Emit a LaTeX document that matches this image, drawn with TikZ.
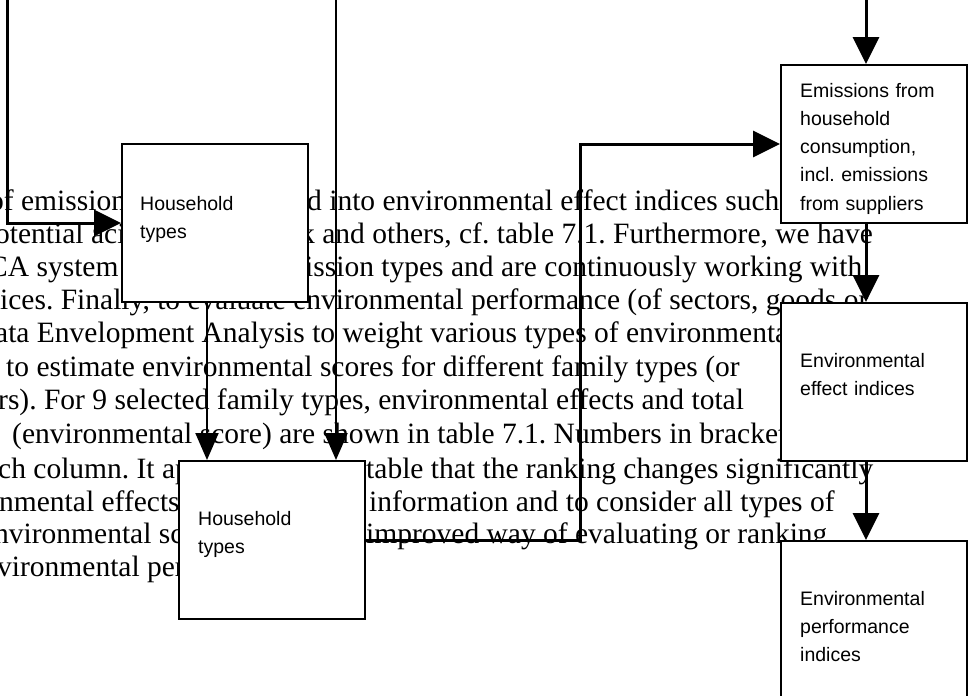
\documentclass[tikz,border=0pt]{standalone}
\usepackage{fontspec}
\setmainfont{Liberation Serif}
\newfontfamily\boxfont{Liberation Sans}
\usetikzlibrary{arrows.meta}
\frenchspacing
\begin{document}
\begin{tikzpicture}[x=1pt,y=-1pt,
  body/.style={anchor=base west, inner sep=0pt, font=\fontsize{29.5}{33}\selectfont},
  stage/.style={draw=black, line width=2pt, fill=white, anchor=north west,
    minimum width=186pt, minimum height=158pt, inner sep=0pt},
  tag/.style={anchor=base west, inner sep=0pt, text width=170pt, align=left,
    font=\boxfont\fontsize{19.5}{28.3}\selectfont},
  flow/.style={line width=3pt, -{Triangle[length=27pt,width=26pt]}},
  feed/.style={line width=2pt, -{Triangle[length=27pt,width=23pt]}}
]
\useasboundingbox (0,0) rectangle (970,696);
\clip (0,0) rectangle (970,696);

% running text of the page behind the chart
\node[body] (l1a) at (-11,210) {of emission};
\node[body] (l1b) at (307,210) {d into environmental effect indices such};
\node[body] (l2a) at (-5,243) {otential aci};
\node[body] (l2b) at (300,243) {k and others, cf. table 7.1. Furthermore, we have};
\node[body] (l3a) at (-12,276) {CA system};
\node[body] (l3b) at (305,276) {ission types and are continuously working with};
\node[body] (l4) at (0,309) {ices. Finally, to evaluate environmental performance (of sectors, goods or};
\node[body] (l5) at (-5,342) {ata Envelopment Analysis to weight various types of environmental};
\node[body] (l6) at (6,376) {to estimate environmental scores for different family types (or};
\node[body] (l7) at (-2,409) {rs). For 9 selected family types, environmental effects and total};
\node[body] (l8) at (12,443) {(environmental score) are shown in table 7.1. Numbers in brackets};
\node[body] (l9a) at (-2,478) {ch column. It ap};
\node[body] (l9b) at (366,478) {table that the ranking changes significantly};
\node[body] (l10a) at (-1,511) {nmental effects};
\node[body] (l10b) at (369,511) {information and to consider all types of};
\node[body] (l11a) at (-6,543) {nvironmental sc};
\node[body] (l11b) at (366,543) {improved way of evaluating or ranking};
\node[body] (l12a) at (-3,576) {vironmental per};

% boxes
\node[stage] (hh1) at (121,143) {};
\node[stage] (hh2) at (178,460) {};
\node[stage] (em) at (780,64) {};
\node[stage] (eff) at (780,302) {};
\node[stage, minimum height=162pt] (perf) at (780,540) {};

\node[tag] (hh1t) at (140,210) {Household\\types};
\node[tag] (hh2t) at (198,525) {Household\\types};
\node[tag] (emt) at (800,97) {Emissions from\\household\\consumption,\\incl. emissions\\from suppliers};
\node[tag] (efft) at (800,367) {Environmental\\effect indices};
\node[tag] (perft) at (800,605) {Environmental\\performance\\indices};

% connectors
\coordinate (inA) at (7,0);
\coordinate (inB) at (336,0);
\coordinate (inC) at (866,0);
\draw[flow] (inA) |- (hh1.west);
\draw[feed] (inB) -- (inB |- hh2.north);
\draw[feed] ([xshift=86pt]hh1.south west) -- ([xshift=86pt]hh1.south west |- hh2.north);
\draw[flow] (hh2.east) -| ([xshift=-200pt]em.west) -- (em.west);
\draw[flow] (inC) -- (inC |- em.north);
\draw[flow] (inC |- em.south) -- (inC |- eff.north);
\draw[flow] (inC |- eff.south) -- (inC |- perf.north);
\end{tikzpicture}
\end{document}
